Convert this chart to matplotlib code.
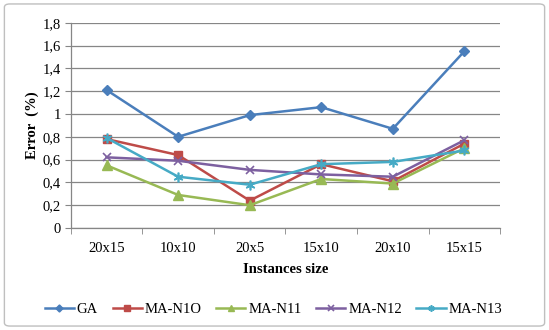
import matplotlib
matplotlib.use("Agg")
import matplotlib.pyplot as plt
from matplotlib.patches import FancyBboxPatch
from matplotlib.ticker import FuncFormatter, FixedLocator

categories = ["20x15", "10x10", "20x5", "15x10", "20x10", "15x15"]
ga = [1.21, 0.80, 0.99, 1.06, 0.87, 1.55]
ma_n10 = [0.78, 0.64, 0.24, 0.56, 0.41, 0.74]
ma_n11 = [0.55, 0.29, 0.20, 0.43, 0.39, 0.70]
ma_n12 = [0.62, 0.59, 0.51, 0.47, 0.45, 0.77]
ma_n13 = [0.79, 0.45, 0.38, 0.56, 0.58, 0.68]
series_names = ["GA", "MA-N1O", "MA-N11", "MA-N12", "MA-N13"]
yticks = [0, 0.2, 0.4, 0.6, 0.8, 1.0, 1.2, 1.4, 1.6, 1.8]

plt.rcParams['font.family'] = ['Liberation Serif', 'DejaVu Serif']

fig = plt.figure(figsize=(5.49, 3.30), dpi=100)
fig.patches.append(FancyBboxPatch((0.008, 0.012), 0.984, 0.976,
                                  boxstyle="round,pad=0,rounding_size=0.01",
                                  transform=fig.transFigure, fill=False,
                                  edgecolor="#BFBFBF", linewidth=1.0))
ax = fig.add_axes([0.129, 0.309, 0.782, 0.622])

x = list(range(len(categories)))
styles = [
    (ga, "#4A7EBB", "D", 5.5),
    (ma_n10, "#BE4B48", "s", 6),
    (ma_n11, "#98B954", "^", 6.5),
    (ma_n12, "#7D60A0", "x", 6),
    (ma_n13, "#46AAC5", (6, 2, 0), 7),
]
for (vals, col, mk, ms), name in zip(styles, series_names):
    kw = dict(color=col, linewidth=1.8, marker=mk, markersize=ms, label=name)
    if mk in ("x",) or isinstance(mk, tuple):
        kw.update(markeredgewidth=1.2)
    else:
        kw.update(markeredgecolor=col, markerfacecolor=col)
    ax.plot(x, vals, **kw)

ax.set_xlim(-0.5, len(categories) - 0.5)
ax.set_ylim(0, 1.8)
ax.set_yticks(yticks)
ax.yaxis.set_major_formatter(FuncFormatter(lambda v, p: ("%g" % round(v, 1)).replace(".", ",")))
ax.set_xticks(x)
ax.set_xticklabels(categories)
ax.xaxis.set_minor_locator(FixedLocator([i - 0.5 for i in range(len(categories) + 1)]))
ax.tick_params(axis='x', which='major', length=0, pad=10, labelsize=10.5)
ax.tick_params(axis='x', which='minor', length=4, color="#868686", direction='out')
ax.tick_params(axis='y', length=4, color="#868686", labelsize=10.5, pad=3)
ax.grid(axis='y', color="#868686", linewidth=0.9)
ax.set_axisbelow(True)
for s in ["top", "right"]:
    ax.spines[s].set_visible(False)
for s in ["left", "bottom"]:
    ax.spines[s].set_color("#868686")
    ax.spines[s].set_linewidth(0.9)

ax.set_xlabel("Instances size", fontsize=10.5, fontweight='bold', labelpad=6)
ax.set_ylabel("Error  (%)", fontsize=10.5, fontweight='bold', labelpad=3)

ax.legend(loc='center', bbox_to_anchor=(0.472, -0.395), ncol=5, frameon=False,
          fontsize=10.5, handlelength=2.0, columnspacing=1.0, handletextpad=0.2,
          markerscale=0.65)

fig.savefig("out.png", dpi=100)
